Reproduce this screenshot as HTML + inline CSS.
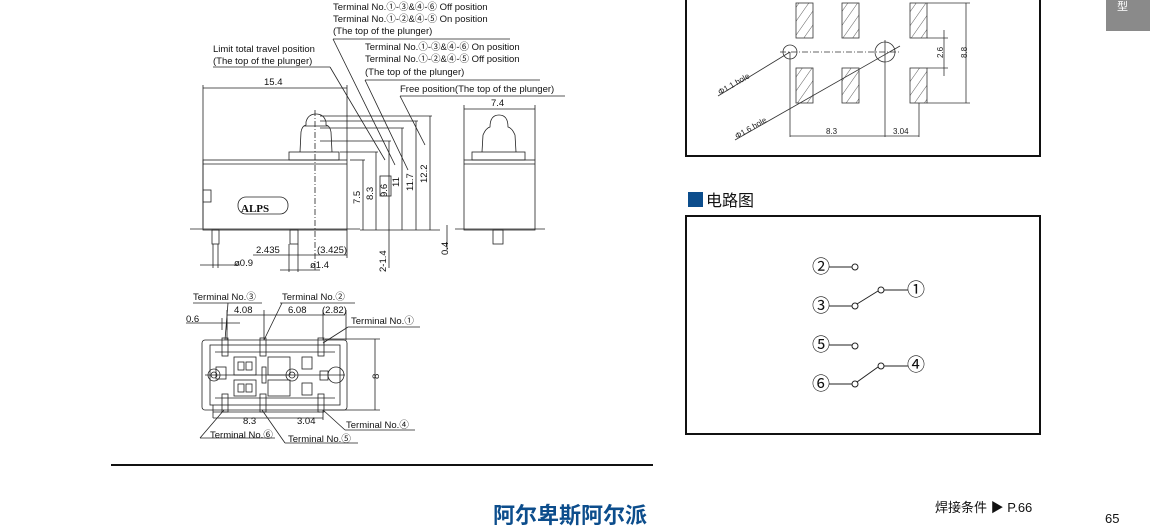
<!DOCTYPE html>
<html><head><meta charset="utf-8"><style>
body{margin:0;background:#fff;}
svg{display:block;font-family:"Liberation Sans","Noto Sans CJK SC",sans-serif;}
</style></head><body>
<svg width="1150" height="529" viewBox="0 0 1150 529" xmlns="http://www.w3.org/2000/svg">
<defs>
<pattern id="h" width="8" height="8" patternUnits="userSpaceOnUse" patternTransform="rotate(35)"><line x1="0" y1="0" x2="0" y2="8" stroke="#333" stroke-width="0.8"/></pattern>
</defs>
<g fill="none" stroke="#222" stroke-width="0.8">
<line x1="203" y1="85" x2="203" y2="228"/><line x1="347" y1="85" x2="347" y2="160"/>
<line x1="203" y1="88" x2="347" y2="88"/>
<rect x="203" y="160" width="144" height="70"/><line x1="203" y1="164" x2="347" y2="164"/>
<rect x="203" y="190" width="8" height="12"/>
<rect x="289" y="152" width="50" height="8"/>
<path d="M300,152 L301,132 Q302,126 306,125 L306,122 Q308,114 316,114 Q324,114 326,122 L326,125 Q330,126 331,132 L332,152"/>
<line x1="304" y1="126" x2="328" y2="126"/>
<line x1="315" y1="110" x2="315" y2="270" stroke-dasharray="6,2,1,2"/>
<rect x="238" y="197" width="50" height="17" rx="8"/>
<line x1="190" y1="229" x2="360" y2="229"/>
<rect x="212" y="230" width="7" height="14"/><rect x="290" y="230" width="8" height="14"/>
<line x1="213" y1="244" x2="213" y2="268"/><line x1="218" y1="244" x2="218" y2="268"/>
<line x1="289" y1="244" x2="289" y2="272"/><line x1="298" y1="244" x2="298" y2="272"/>
<line x1="347" y1="230" x2="347" y2="258"/>
<line x1="253" y1="255" x2="347" y2="255"/>
<line x1="200" y1="265" x2="240" y2="265"/><line x1="280" y1="270" x2="320" y2="270"/>
<line x1="350" y1="160" x2="365" y2="160"/><line x1="340" y1="152" x2="378" y2="152"/>
<line x1="320" y1="141" x2="391" y2="141"/><line x1="320" y1="128" x2="404" y2="128"/>
<line x1="320" y1="121" x2="418" y2="121"/><line x1="320" y1="116" x2="432" y2="116"/>
<line x1="363" y1="160" x2="363" y2="230"/><line x1="376" y1="152" x2="376" y2="230"/>
<line x1="389" y1="141" x2="389" y2="230"/><line x1="402" y1="128" x2="402" y2="230"/>
<line x1="416" y1="121" x2="416" y2="230"/><line x1="430" y1="116" x2="430" y2="230"/>
<line x1="389" y1="230" x2="389" y2="268"/>
<line x1="360" y1="230" x2="440" y2="230"/>
<line x1="213" y1="67" x2="330" y2="67"/><line x1="330" y1="67" x2="385" y2="160"/>
<line x1="333" y1="39" x2="510" y2="39"/><line x1="333" y1="39" x2="395" y2="165"/>
<line x1="365" y1="80" x2="540" y2="80"/><line x1="365" y1="80" x2="408" y2="170"/>
<line x1="400" y1="96" x2="565" y2="96"/><line x1="400" y1="96" x2="425" y2="145"/>
<line x1="464" y1="105" x2="464" y2="160"/><line x1="535" y1="105" x2="535" y2="160"/>
<line x1="464" y1="109" x2="535" y2="109"/>
<rect x="464" y="160" width="71" height="70"/><line x1="464" y1="164" x2="535" y2="164"/>
<rect x="472" y="152" width="53" height="8"/>
<path d="M482,152 L483,135 Q486,128 490,127 Q490,115 499,115 Q508,115 508,127 Q512,128 515,135 L516,152"/>
<line x1="455" y1="229" x2="545" y2="229"/>
<rect x="493" y="230" width="10" height="14"/>
<line x1="447" y1="225" x2="447" y2="250"/>
<rect x="202" y="340" width="145" height="70" rx="3"/>
<rect x="210" y="345" width="130" height="60"/>
<line x1="215" y1="352" x2="335" y2="352"/><line x1="215" y1="398" x2="335" y2="398"/>
<rect x="222" y="338" width="6" height="18"/><rect x="260" y="338" width="6" height="18"/><rect x="318" y="338" width="6" height="18"/>
<rect x="222" y="394" width="6" height="18"/><rect x="260" y="394" width="6" height="18"/><rect x="318" y="394" width="6" height="18"/>
<rect x="234" y="357" width="22" height="18"/><rect x="234" y="380" width="22" height="16"/>
<rect x="238" y="362" width="6" height="8"/><rect x="246" y="362" width="6" height="8"/>
<rect x="238" y="384" width="6" height="8"/><rect x="246" y="384" width="6" height="8"/>
<rect x="268" y="357" width="22" height="18"/><rect x="268" y="380" width="22" height="16"/>
<rect x="302" y="357" width="10" height="12"/><rect x="302" y="383" width="10" height="12"/>
<rect x="262" y="367" width="4" height="16"/>
<rect x="216" y="367" width="10" height="12"/><rect x="320" y="371" width="8" height="9"/>
<circle cx="214" cy="375" r="6"/><circle cx="214" cy="375" r="3"/>
<circle cx="292" cy="375" r="6"/><circle cx="292" cy="375" r="3"/>
<circle cx="336" cy="375" r="8"/>
<line x1="205" y1="375" x2="345" y2="375"/>
<line x1="325" y1="339" x2="380" y2="339"/><line x1="325" y1="410" x2="380" y2="410"/>
<line x1="375" y1="339" x2="375" y2="410"/>
<line x1="227" y1="315" x2="345" y2="315"/>
<line x1="227" y1="310" x2="227" y2="340"/><line x1="264" y1="310" x2="264" y2="340"/><line x1="323" y1="310" x2="323" y2="340"/><line x1="346" y1="310" x2="346" y2="340"/>
<line x1="186" y1="323" x2="240" y2="323"/><line x1="222" y1="318" x2="222" y2="330"/><line x1="227" y1="318" x2="227" y2="330"/>
<line x1="213" y1="412" x2="320" y2="412"/><line x1="213" y1="405" x2="213" y2="418"/>
<line x1="213" y1="418" x2="323" y2="418"/><line x1="323" y1="410" x2="323" y2="420"/>
<line x1="193" y1="303" x2="262" y2="303"/><line x1="228" y1="303" x2="225" y2="340"/>
<line x1="280" y1="303" x2="355" y2="303"/><line x1="282" y1="303" x2="264" y2="340"/>
<line x1="348" y1="327" x2="420" y2="327"/><line x1="348" y1="327" x2="323" y2="343"/>
<line x1="200" y1="438" x2="275" y2="438"/><line x1="200" y1="438" x2="224" y2="410"/>
<line x1="285" y1="443" x2="358" y2="443"/><line x1="285" y1="443" x2="262" y2="410"/>
<line x1="345" y1="430" x2="415" y2="430"/><line x1="345" y1="430" x2="323" y2="410"/>
</g>
<g font-size="9.5" fill="#111">
<text x="333" y="10">Terminal  No.①-③&amp;④-⑥ Off position</text>
<text x="333" y="22">Terminal  No.①-②&amp;④-⑤ On position</text>
<text x="333" y="34">(The top of the plunger)</text>
<text x="213" y="52">Limit total travel position</text>
<text x="213" y="64">(The top of the plunger)</text>
<text x="365" y="50">Terminal No.①-③&amp;④-⑥ On position</text>
<text x="365" y="62">Terminal  No.①-②&amp;④-⑤ Off position</text>
<text x="365" y="75">(The top of the plunger)</text>
<text x="400" y="92">Free position(The top of the plunger)</text>
<text x="264" y="85">15.4</text>
<text x="491" y="106">7.4</text>
<text x="256" y="253">2.435</text><text x="317" y="253">(3.425)</text>
<text x="234" y="266">ø0.9</text><text x="310" y="268">ø1.4</text>
<g transform="rotate(-90)">
<text x="-204" y="360">7.5</text><text x="-200" y="373">8.3</text>
<text x="-197" y="387">9.6</text><text x="-187" y="399">11</text>
<text x="-191" y="413">11.7</text><text x="-183" y="427">12.2</text>
<text x="-272" y="386">2-1.4</text><text x="-255" y="448">0.4</text>
<text x="-379" y="379">8</text>
</g>
<rect x="380" y="176" width="11" height="20" fill="none" stroke="#222" stroke-width="0.8"/>
<text x="241" y="212" font-size="11" font-weight="bold" font-family="Liberation Serif,serif">ALPS</text>
<text x="193" y="300">Terminal No.③</text><text x="282" y="300">Terminal No.②</text>
<text x="351" y="324">Terminal No.①</text>
<text x="234" y="313">4.08</text><text x="288" y="313">6.08</text><text x="322" y="313">(2.82)</text>
<text x="186" y="322">0.6</text>
<text x="243" y="424">8.3</text><text x="297" y="424">3.04</text>
<text x="346" y="428">Terminal No.④</text>
<text x="210" y="438">Terminal No.⑥</text><text x="288" y="442">Terminal No.⑤</text>
</g>
<rect x="686" y="-2" width="354" height="158" fill="none" stroke="#111" stroke-width="2"/>
<g stroke="#333" stroke-width="0.8">
<rect x="796" y="3" width="17" height="35" fill="url(#h)"/><rect x="842" y="3" width="17" height="35" fill="url(#h)"/><rect x="910" y="3" width="17" height="35" fill="url(#h)"/>
<rect x="796" y="68" width="17" height="35" fill="url(#h)"/><rect x="842" y="68" width="17" height="35" fill="url(#h)"/><rect x="910" y="68" width="17" height="35" fill="url(#h)"/>
<line x1="780" y1="52" x2="900" y2="52" stroke-dasharray="6,2,1,2"/>
<circle cx="790" cy="52" r="7" fill="none"/><circle cx="885" cy="52" r="10" fill="none"/>
<line x1="790" y1="52" x2="790" y2="137"/><line x1="885" y1="40" x2="885" y2="137"/><line x1="919" y1="103" x2="919" y2="137"/>
<line x1="790" y1="136" x2="919" y2="136"/>
<line x1="927" y1="3" x2="970" y2="3"/><line x1="927" y1="103" x2="970" y2="103"/>
<line x1="966" y1="3" x2="966" y2="103"/>
<line x1="927" y1="38" x2="948" y2="38"/><line x1="927" y1="68" x2="948" y2="68"/>
<line x1="944" y1="30" x2="944" y2="76"/>
<line x1="718" y1="96" x2="790" y2="52"/><line x1="735" y1="140" x2="900" y2="46"/>
</g>
<g font-size="8" fill="#222">
<text x="826" y="134">8.3</text><text x="893" y="134">3.04</text>
<g transform="rotate(-90)"><text x="-58" y="943">2.6</text><text x="-58" y="967">8.8</text></g>
<text transform="translate(720,95) rotate(-30)">Φ1.1 hole</text>
<text transform="translate(737,139) rotate(-30)">Φ1.6 hole</text>
</g>
<rect x="1106" y="0" width="44" height="31" fill="#8a8a8a"/>
<text x="1117" y="10" font-size="11" fill="#fff">型</text>
<rect x="688" y="192" width="15" height="15" fill="#0c4d8c"/>
<text x="706" y="206" font-size="16" fill="#111">电路图</text>
<rect x="686" y="216" width="354" height="218" fill="none" stroke="#111" stroke-width="2"/>
<g stroke="#222" stroke-width="1" fill="#fff">
<line x1="829" y1="267" x2="852" y2="267"/><circle cx="855" cy="267" r="3"/>
<line x1="829" y1="306" x2="852" y2="306"/><line x1="857" y1="304" x2="878" y2="291"/><circle cx="855" cy="306" r="3"/>
<circle cx="881" cy="290" r="3"/><line x1="884" y1="290" x2="908" y2="290"/>
<line x1="829" y1="345" x2="852" y2="345"/><circle cx="855" cy="346" r="3"/>
<line x1="829" y1="384" x2="852" y2="384"/><line x1="857" y1="382" x2="878" y2="367"/><circle cx="855" cy="384" r="3"/>
<circle cx="881" cy="366" r="3"/><line x1="884" y1="366" x2="908" y2="366"/>
</g>
<g font-size="18" fill="#111">
<text x="812" y="273">②</text><text x="812" y="312">③</text><text x="907" y="296">①</text>
<text x="812" y="351">⑤</text><text x="812" y="390">⑥</text><text x="907" y="371">④</text>
</g>
<line x1="111" y1="465" x2="653" y2="465" stroke="#111" stroke-width="2"/>
<text x="493" y="523" font-size="22" font-weight="bold" fill="#0c4d8c">阿尔卑斯阿尔派</text>
<text x="935" y="512" font-size="13" fill="#111">焊接条件 ▶ P.66</text>
<text x="1105" y="523" font-size="13" fill="#111">65</text>
</svg>
</body></html>
